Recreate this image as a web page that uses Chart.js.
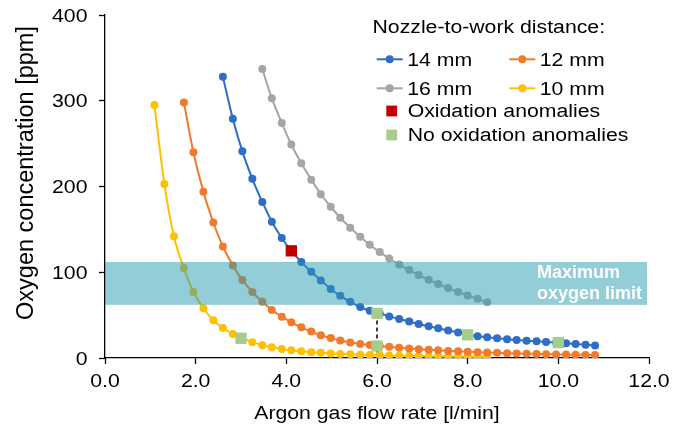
<!DOCTYPE html>
<html>
<head>
<meta charset="utf-8">
<script src="https://cdn.jsdelivr.net/npm/chart.js@4.4.0/dist/chart.umd.min.js"></script>
<style>
  body { margin: 0; background: #fff; }
  #wrap { width: 688px; height: 427px; }
</style>
</head>
<body>
<div id="wrap"><canvas id="chart"></canvas></div>
<script>
// Oxygen concentration vs argon flow rate, four nozzle distances.

// shared flow-rate grid [l/min]
const flowRates = [1.09, 1.31, 1.52, 1.74, 1.95, 2.17, 2.39, 2.60, 2.82, 3.03,
  3.25, 3.47, 3.68, 3.90, 4.11, 4.33, 4.55, 4.76, 4.98, 5.19,
  5.41, 5.63, 5.84, 6.06, 6.27, 6.49, 6.71, 6.92, 7.14, 7.35,
  7.57, 7.79, 8.00, 8.22, 8.43, 8.65, 8.87, 9.08, 9.30, 9.52,
  9.73, 9.95, 10.17, 10.38, 10.60, 10.81];

// oxygen [ppm]; each series starts at its own index in flowRates
const start14 = 7;
const ppm14 = [328, 279, 241, 209, 182, 159, 140, 125, 112, 100.5, 90.5, 80.5, 72.5, 65.5, 59.5, 55, 52,
  48.5, 45.5, 42.5, 39.6, 37, 34.6, 32.2, 29.8, 27, 25.5, 24.2, 23, 22, 21, 20.2, 19.4, 18.7, 18,
  17.2, 16.4, 15.5, 14.6];
const start12 = 3;
const ppm12 = [298, 240, 194, 158, 130, 108, 91, 77, 65.5, 56, 48.2, 41.6, 35.8, 30.8, 26.6, 23.2, 20.3,
  18, 16.4, 15.2, 14, 13, 12, 11.1, 10.3, 9.6, 8.9, 8.3, 7.8, 7.3, 6.8, 6.4, 6.0, 5.6, 5.3, 5.0,
  4.7, 4.4, 4.2, 4.0, 3.8, 3.6, 3.4];
const start16 = 11;
const ppm16 = [337, 303, 274, 249, 227, 208, 191, 176.5, 163.5, 152, 141.5, 132, 123.5, 116, 109,
  102.5, 96.8, 91.3, 86.3, 81.5, 77, 73, 69, 65];
const start10 = 0;
const ppm10 = [295, 203, 142, 105, 77, 58, 44, 35, 28, 23, 18.5, 15, 12.5, 10.5, 9, 7.8, 6.8, 6,
  5.3, 4.8, 4.3, 3.9, 3.5, 3.2, 2.9, 2.7, 2.5, 2.3, 2.1, 2.0, 1.8, 1.7, 1.6, 1.5, 1.4];

// experiment markers
const oxidX = [4.11];
const oxidY = [125];
const okX = [3.0, 6.0, 6.0, 8.0, 10.0];
const okY = [23, 52, 14, 27, 18];

// maximum oxygen limit band [ppm] and the dashed guide at 6 l/min
const bandLow = 62;
const bandHigh = 112;
const guideX = 6.0;
const guideTop = 52;

const C_BLUE = '#2F6DC6', C_ORANGE = '#F07B2C', C_GRAY = '#A5A5A5', C_YELLOW = '#FFC000';
const C_RED = '#C00000', C_GREEN = '#A6CC8E';
const FONT = '18px "Liberation Sans", Arial, sans-serif';
const SX = 1.18; // text in the reference is drawn a bit wide
const DOT = 4;

function pairs(ys, first) {
  return ys.map((y, i) => ({ x: flowRates[first + i], y }));
}
function markers(xs, ys) {
  return xs.map((x, i) => ({ x, y: ys[i] }));
}

function lineSet(label, ys, first, color) {
  return {
    label, data: pairs(ys, first), showLine: true, order: 2,
    borderColor: color, backgroundColor: color, borderWidth: 2,
    pointRadius: DOT, pointBorderWidth: 0, pointBackgroundColor: color,
    cubicInterpolationMode: 'monotone'
  };
}
function squareSet(label, xs, ys, color) {
  return {
    label, data: markers(xs, ys), order: 0,
    pointStyle: 'rect', pointRadius: 8, pointBorderWidth: 0,
    backgroundColor: color, pointBackgroundColor: color
  };
}

function wideText(ctx, str, x, y, align) {
  ctx.save();
  ctx.translate(x, y);
  ctx.scale(SX, 1);
  ctx.textAlign = align;
  ctx.fillText(str, 0, 0);
  ctx.restore();
}

const decorations = {
  id: 'decorations',
  beforeDatasetsDraw(chart) {
    const { ctx, scales: { x, y } } = chart;
    ctx.save();
    ctx.strokeStyle = '#000';
    ctx.lineWidth = 1.5;
    ctx.setLineDash([4, 3]);
    ctx.beginPath();
    ctx.moveTo(x.getPixelForValue(guideX), y.getPixelForValue(guideTop));
    ctx.lineTo(x.getPixelForValue(guideX), y.getPixelForValue(0));
    ctx.stroke();
    ctx.restore();
  },
  afterDatasetsDraw(chart) {
    const { ctx, scales: { x, y } } = chart;
    const top = y.getPixelForValue(bandHigh), bot = y.getPixelForValue(bandLow);
    ctx.save();
    ctx.fillStyle = 'rgba(40,155,175,0.5)';
    ctx.fillRect(x.getPixelForValue(0), top, x.getPixelForValue(12) - 2 - x.getPixelForValue(0), bot - top);
    ctx.fillStyle = '#fff';
    ctx.font = 'bold 18px "Liberation Sans", Arial, sans-serif';
    ctx.textAlign = 'left';
    ctx.fillText('Maximum', 537, 278);
    ctx.fillText('oxygen limit', 537, 298.5);
    ctx.restore();
  },
  afterDraw(chart) {
    const { ctx, scales: { x, y } } = chart;
    ctx.save();
    ctx.fillStyle = '#000';
    ctx.font = FONT;
    ctx.textBaseline = 'alphabetic';
    y.ticks.forEach(t => wideText(ctx, String(t.value), 87.5, y.getPixelForValue(t.value) + 6.5, 'right'));
    x.ticks.forEach(t => wideText(ctx, t.value.toFixed(1), x.getPixelForValue(t.value), 387, 'center'));
    wideText(ctx, 'Argon gas flow rate [l/min]', 377, 418.5, 'center');

    ctx.save();
    ctx.translate(33, 173);
    ctx.rotate(-Math.PI / 2);
    ctx.font = '23.5px "Liberation Sans", Arial, sans-serif';
    ctx.textAlign = 'center';
    ctx.fillText('Oxygen concentration [ppm]', 0, 0);
    ctx.restore();

    // legend
    wideText(ctx, 'Nozzle-to-work distance:', 372.5, 33.3, 'left');
    const rows = [
      { x: 376.7, y: 59.3, c: C_BLUE, t: '14 mm' },
      { x: 509.3, y: 59.3, c: C_ORANGE, t: '12 mm' },
      { x: 376.7, y: 88.3, c: C_GRAY, t: '16 mm' },
      { x: 509.3, y: 88.3, c: C_YELLOW, t: '10 mm' }
    ];
    rows.forEach(r => {
      ctx.strokeStyle = r.c;
      ctx.fillStyle = r.c;
      ctx.lineWidth = 2;
      ctx.beginPath();
      ctx.moveTo(r.x, r.y);
      ctx.lineTo(r.x + 26, r.y);
      ctx.stroke();
      ctx.beginPath();
      ctx.arc(r.x + 13, r.y, DOT, 0, Math.PI * 2);
      ctx.fill();
      ctx.fillStyle = '#000';
      wideText(ctx, r.t, r.x + 30.5, r.y + 6.4, 'left');
    });
    ctx.fillStyle = C_RED;
    ctx.fillRect(386.3, 105.6, 10.8, 10.8);
    ctx.fillStyle = C_GREEN;
    ctx.fillRect(386.3, 129.6, 10.8, 10.8);
    ctx.fillStyle = '#000';
    wideText(ctx, 'Oxidation anomalies', 407.7, 117.3, 'left');
    wideText(ctx, 'No oxidation anomalies', 407.7, 140.7, 'left');
    ctx.restore();
  }
};

new Chart(document.getElementById('chart'), {
  type: 'scatter',
  data: {
    datasets: [
      squareSet('Oxidation anomalies', oxidX, oxidY, C_RED),
      squareSet('No oxidation anomalies', okX, okY, C_GREEN),
      lineSet('14 mm', ppm14, start14, C_BLUE),
      lineSet('12 mm', ppm12, start12, C_ORANGE),
      lineSet('16 mm', ppm16, start16, C_GRAY),
      lineSet('10 mm', ppm10, start10, C_YELLOW)
    ]
  },
  options: {
    responsive: true,
    maintainAspectRatio: false,
    devicePixelRatio: 1,
    animation: false,
    layout: { padding: { top: 15, right: 39, left: 0, bottom: 0 } },
    plugins: { legend: { display: false }, tooltip: { enabled: false } },
    scales: {
      x: {
        type: 'linear', min: 0, max: 12,
        ticks: { display: false, stepSize: 2 },
        grid: { drawOnChartArea: false, drawTicks: true, tickLength: 6, tickColor: '#000', tickWidth: 1.3 },
        border: { display: true, color: '#000', width: 1.3 },
        afterFit: s => { s.height = 69; }
      },
      y: {
        type: 'linear', min: 0, max: 400,
        ticks: { display: false, stepSize: 100 },
        grid: { drawOnChartArea: false, drawTicks: true, tickLength: 6, tickColor: '#000', tickWidth: 1.3 },
        border: { display: true, color: '#000', width: 1.3 },
        afterFit: s => { s.width = 105; }
      }
    }
  },
  plugins: [decorations]
});
</script>
</body>
</html>
